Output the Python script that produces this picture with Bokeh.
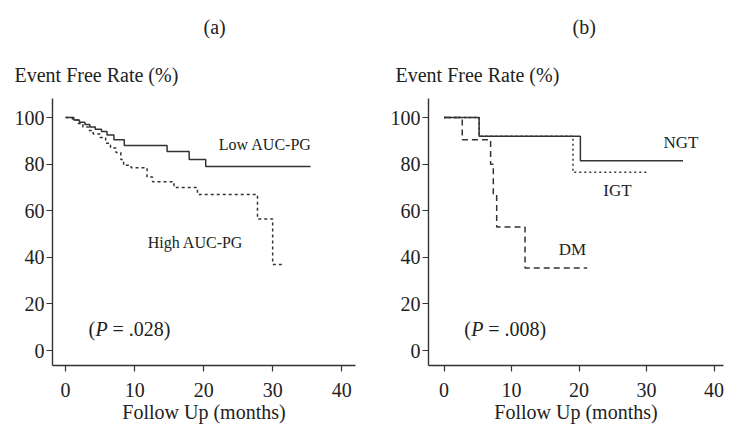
from bokeh.plotting import figure
from bokeh.layouts import row
from bokeh.models import Label, Range1d, FixedTicker, Title
from bokeh.embed import file_html
from bokeh.resources import INLINE

# ---- data ----
low_t = [0, 1.2, 2.0, 2.8, 3.5, 4.3, 5.2, 6.0, 7.0, 8.5, 14.7, 17.9, 20.3, 35.5]
low_v = [100, 99, 98, 97, 96, 95, 94, 92.5, 90.5, 88, 85.5, 82, 79, 79]
high_t = [0, 1.0, 1.8, 2.5, 3.3, 4.0, 5.0, 5.8, 6.5, 7.3, 8.0, 8.4, 9.5, 11.8, 12.6, 15.7, 19.1, 27.8, 30.0, 31.6]
high_v = [100, 99, 97.5, 96, 94.5, 93, 91.5, 89, 87, 85, 82, 79.5, 78.5, 74.5, 72.5, 70, 67, 56.5, 37, 37]

ngt_t = [0, 5.2, 20.2, 35.4]
ngt_v = [100, 92, 81.5, 81.5]
igt_t = [0, 5.2, 19.1, 30.3]
igt_v = [100, 92, 76.5, 76.5]
dm_t = [0, 2.7, 6.9, 7.3, 7.8, 12.0, 21.2]
dm_v = [100, 90.5, 80, 67, 53, 35.5, 35.5]

x_ticks = [0, 10, 20, 30, 40]
y_ticks = [0, 20, 40, 60, 80, 100]

FONT = "Liberation Serif"
INK = "#333333"
TXT = "#222222"


def title(text, offset, standoff):
    return Title(text=text, align="left", offset=offset, text_font=FONT,
                 text_font_size="20px", text_font_style="normal",
                 text_color=TXT, standoff=standoff)


def make_fig(width, xr, border_left, border_right, panel, panel_off, title_off):
    p = figure(width=width, height=427, output_backend="svg", toolbar_location=None,
               x_range=Range1d(*xr), y_range=Range1d(-6.4, 108.2),
               min_border_left=border_left, min_border_right=border_right,
               min_border_top=98, min_border_bottom=62)
    p.outline_line_color = None
    p.grid.visible = False
    p.background_fill_color = "white"
    p.border_fill_color = "white"
    for ax in (p.xaxis[0], p.yaxis[0]):
        ax.axis_line_color = INK
        ax.axis_line_width = 1.4
        ax.major_tick_line_color = INK
        ax.major_tick_line_width = 1.2
        ax.major_tick_in = 0
        ax.major_tick_out = 6
        ax.minor_tick_line_color = None
        ax.major_label_text_font = FONT
        ax.major_label_text_font_size = "20px"
        ax.major_label_text_color = TXT
    p.xaxis[0].ticker = FixedTicker(ticks=x_ticks)
    p.yaxis[0].ticker = FixedTicker(ticks=y_ticks)
    p.xaxis[0].major_label_standoff = 11
    p.yaxis[0].major_label_standoff = 2
    p.xaxis[0].axis_label = "Follow Up (months)"
    p.xaxis[0].axis_label_text_font = FONT
    p.xaxis[0].axis_label_text_font_size = "20px"
    p.xaxis[0].axis_label_text_font_style = "normal"
    p.xaxis[0].axis_label_text_color = TXT
    p.xaxis[0].axis_label_standoff = 1
    p.title.visible = False
    p.add_layout(title("Event Free Rate (%)", title_off, 26), "above")
    p.add_layout(title(panel, panel_off, 22), "above")
    return p


def lab(p, x, y, text, size="16px", style="normal", xoff=0):
    p.add_layout(Label(x=x, y=y, text=text, text_font=FONT, text_font_size=size,
                       text_color=TXT, text_align="left", text_baseline="middle",
                       text_font_style=style, x_offset=xoff))


def pvalue(p, x, y, num):
    lab(p, x, y, "(", size="20px")
    lab(p, x, y, "P", size="20px", style="italic", xoff=7)
    lab(p, x, y, "= " + num + ")", size="20px", xoff=24)


# ---- panel (a) ----
pa = make_fig(362, (-1.9, 42.0), 52, 7, "(a)", 151, -38)
pa.step(low_t, low_v, mode="after", line_color=INK, line_width=1.5)
pa.step(high_t, high_v, mode="after", line_color=INK, line_width=1.5, line_dash="3 3")
lab(pa, 22.2, 88.5, "Low AUC-PG")
lab(pa, 11.9, 46.3, "High AUC-PG")
pvalue(pa, 3.3, 9.4, ".028")

# ---- panel (b) ----
pb = make_fig(362, (-2.3, 41.4), 66, 1, "(b)", 144, -33)
pb.step(ngt_t, ngt_v, mode="after", line_color=INK, line_width=1.5)
pb.step(igt_t, igt_v, mode="after", line_color=INK, line_width=1.5, line_dash="2 3")
pb.step(dm_t, dm_v, mode="after", line_color=INK, line_width=1.5, line_dash="6 4")
lab(pb, 32.5, 89.3, "NGT", size="17px")
lab(pb, 23.6, 68.8, "IGT", size="17px")
lab(pb, 17.0, 43.5, "DM", size="17px")
pvalue(pb, 3.0, 9.4, ".008")

layout = row(pa, pb)
open("out.html", "w").write(file_html(layout, INLINE))
